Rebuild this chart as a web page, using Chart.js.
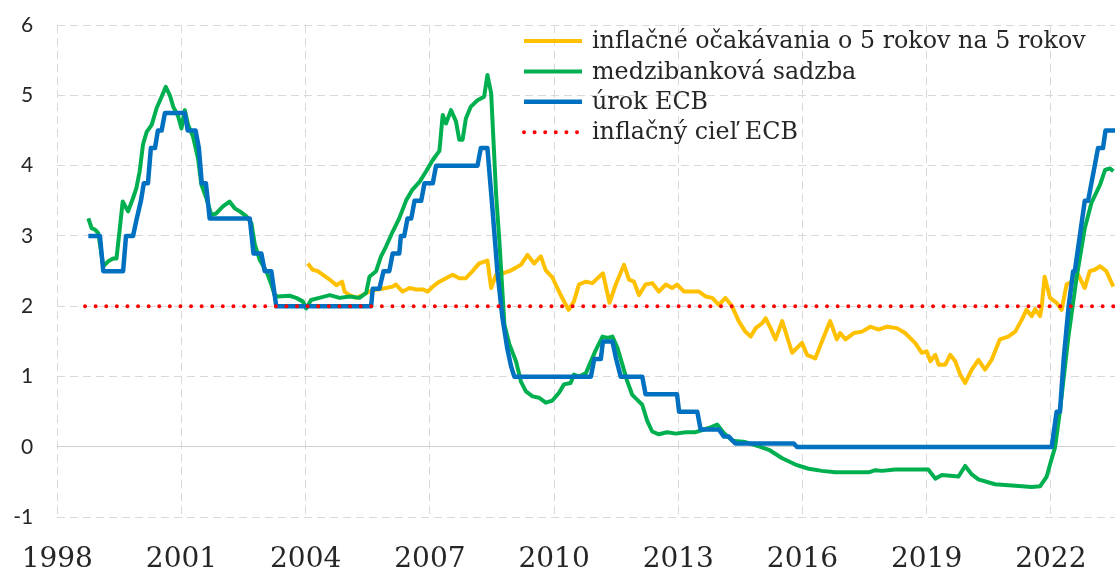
<!DOCTYPE html>
<html lang="sk">
<head>
<meta charset="utf-8">
<title>Úrokové sadzby a inflačné očakávania</title>
<script src="https://cdn.jsdelivr.net/npm/chart.js@4.4.1/dist/chart.umd.min.js"></script>
<style>
  html, body { margin: 0; padding: 0; background: #ffffff; }
  #wrap { width: 1115px; height: 571px; position: relative; }
</style>
</head>
<body>
<div id="wrap"><canvas id="graf"></canvas></div>
<script>
// Popisky radov (legenda)
const seriesLabels = [
  "inflačné očakávania o 5 rokov na 5 rokov",
  "medzibanková sadzba",
  "úrok ECB",
  "inflačný cieľ ECB",
];

// Os x – roky (popisky)
const xTickValues = [1998, 2001, 2004, 2007, 2010, 2013, 2016, 2019, 2022];
const xMin = 1998;
const xMax = 2023.55;

// Os y
const yMin = -1;
const yMax = 6;

// Inflačné očakávania 5y5y
const inflYears = [
  2004.05, 2004.17, 2004.29, 2004.41, 2004.58, 2004.74, 2004.88, 2004.94,
  2005.06, 2005.22, 2005.38, 2005.54, 2005.74, 2005.94,
  2006.10, 2006.18, 2006.34, 2006.51, 2006.67, 2006.83, 2006.95,
  2007.07, 2007.23, 2007.39, 2007.55, 2007.71, 2007.87,
  2008.03, 2008.19, 2008.39, 2008.48, 2008.60, 2008.76, 2008.92,
  2009.08, 2009.20, 2009.36, 2009.52, 2009.68, 2009.80, 2009.96,
  2010.16, 2010.35, 2010.48, 2010.60, 2010.77, 2010.93,
  2011.05, 2011.18, 2011.34, 2011.49, 2011.69, 2011.81, 2011.93,
  2012.05, 2012.21, 2012.37, 2012.53, 2012.70, 2012.85, 2012.97,
  2013.14, 2013.34, 2013.50, 2013.66, 2013.82, 2013.98,
  2014.14, 2014.30, 2014.46, 2014.62, 2014.75, 2014.87,
  2015.03, 2015.11, 2015.23, 2015.35, 2015.51, 2015.75, 2015.99,
  2016.11, 2016.31, 2016.47, 2016.67, 2016.83, 2016.91,
  2017.04, 2017.24, 2017.44, 2017.64, 2017.84,
  2018.04, 2018.28, 2018.48, 2018.72, 2018.88,
  2019.00, 2019.09, 2019.21, 2019.29, 2019.45, 2019.57, 2019.69, 2019.81, 2019.93,
  2020.09, 2020.25, 2020.41, 2020.57, 2020.77, 2020.97,
  2021.14, 2021.29, 2021.41, 2021.54, 2021.62, 2021.74, 2021.78, 2021.85, 2021.98,
  2022.14, 2022.26, 2022.38, 2022.50, 2022.66, 2022.82, 2022.94,
  2023.06, 2023.19, 2023.34, 2023.51,
];
const inflValues = [
  2.61, 2.52, 2.50, 2.45, 2.38, 2.30, 2.35, 2.21,
  2.16, 2.12, 2.16, 2.21, 2.24, 2.26,
  2.28, 2.31, 2.21, 2.26, 2.24, 2.24, 2.21,
  2.28, 2.35, 2.40, 2.45, 2.40, 2.40,
  2.50, 2.61, 2.65, 2.26, 2.45, 2.47, 2.50,
  2.55, 2.59, 2.73, 2.61, 2.71, 2.51, 2.41,
  2.16, 1.95, 2.07, 2.31, 2.35, 2.33,
  2.40, 2.47, 2.05, 2.31, 2.59, 2.38, 2.35,
  2.16, 2.31, 2.33, 2.21, 2.31, 2.26, 2.31,
  2.21, 2.21, 2.21, 2.14, 2.12, 2.02,
  2.12, 2.00, 1.79, 1.64, 1.57, 1.69,
  1.76, 1.83, 1.69, 1.53, 1.79, 1.34, 1.48,
  1.31, 1.26, 1.50, 1.79, 1.53, 1.62,
  1.53, 1.62, 1.64, 1.71, 1.67,
  1.71, 1.69, 1.62, 1.48, 1.34,
  1.36, 1.22, 1.31, 1.17, 1.17, 1.31, 1.22, 1.03, 0.91,
  1.10, 1.24, 1.10, 1.24, 1.53, 1.57,
  1.64, 1.80, 1.95, 1.86, 1.96, 1.86, 2.00, 2.42, 2.12,
  2.05, 1.95, 2.31, 2.35, 2.45, 2.26, 2.50,
  2.52, 2.57, 2.50, 2.28,
];

// Medzibanková sadzba
const rateYears = [
  1998.75, 1998.83, 1998.91, 1998.99,
  1999.11, 1999.23, 1999.35, 1999.43, 1999.51, 1999.58, 1999.71, 1999.83, 1999.91, 1999.99,
  2000.07, 2000.16, 2000.28, 2000.40, 2000.52, 2000.62, 2000.72, 2000.80, 2000.92,
  2001.00, 2001.08, 2001.16, 2001.28, 2001.40, 2001.48, 2001.60, 2001.72, 2001.84,
  2002.00, 2002.16, 2002.29, 2002.41, 2002.57, 2002.69, 2002.77, 2002.89,
  2003.05, 2003.17, 2003.25, 2003.33, 2003.61, 2003.77, 2003.93,
  2004.01, 2004.13, 2004.33, 2004.58, 2004.82,
  2005.06, 2005.30, 2005.46, 2005.54, 2005.70, 2005.82, 2005.94,
  2006.10, 2006.26, 2006.43, 2006.58, 2006.75, 2006.91,
  2007.07, 2007.23, 2007.31, 2007.39, 2007.51, 2007.63, 2007.71, 2007.79, 2007.87, 2007.99,
  2008.15, 2008.31, 2008.39, 2008.48, 2008.60, 2008.68, 2008.80, 2008.92,
  2009.08, 2009.20, 2009.32, 2009.48, 2009.64, 2009.80, 2009.96,
  2010.12, 2010.24, 2010.40, 2010.48, 2010.60, 2010.77, 2010.89,
  2011.01, 2011.17, 2011.29, 2011.41, 2011.53, 2011.65, 2011.77, 2011.89,
  2012.01, 2012.13, 2012.25, 2012.37, 2012.53, 2012.73, 2012.94,
  2013.18, 2013.42, 2013.74, 2013.94,
  2014.10, 2014.30, 2014.62, 2014.95,
  2015.19, 2015.51, 2015.83,
  2016.15, 2016.47, 2016.79,
  2017.60, 2017.76, 2017.92,
  2018.24,
  2019.04, 2019.21, 2019.37, 2019.77, 2019.93,
  2020.09, 2020.25, 2020.65,
  2021.14, 2021.54, 2021.74, 2021.90, 2021.98,
  2022.10, 2022.22, 2022.42, 2022.62, 2022.82, 2022.98,
  2023.19, 2023.31, 2023.43, 2023.51,
];
const rateValues = [
  3.25, 3.11, 3.09, 3.04,
  2.57, 2.64, 2.68, 2.68, 3.11, 3.49, 3.35, 3.54, 3.68, 3.92,
  4.30, 4.48, 4.58, 4.82, 4.98, 5.12, 5.00, 4.84, 4.70,
  4.53, 4.79, 4.58, 4.41, 4.10, 3.73, 3.54, 3.30, 3.32,
  3.42, 3.49, 3.39, 3.35, 3.28, 3.18, 2.88, 2.66,
  2.50, 2.31, 2.16, 2.14, 2.15, 2.12, 2.07,
  1.97, 2.09, 2.12, 2.16, 2.12,
  2.14, 2.12, 2.19, 2.42, 2.50, 2.71, 2.85,
  3.06, 3.25, 3.51, 3.66, 3.77, 3.92,
  4.08, 4.21, 4.72, 4.60, 4.79, 4.63, 4.37, 4.37, 4.67, 4.84,
  4.93, 4.98, 5.29, 5.03, 3.59, 2.92, 1.74, 1.46,
  1.22, 0.93, 0.79, 0.72, 0.70, 0.63, 0.66,
  0.77, 0.89, 0.91, 1.03, 1.00, 1.05, 1.22,
  1.38, 1.57, 1.55, 1.57, 1.41, 1.17, 0.93, 0.74,
  0.67, 0.60, 0.37, 0.22, 0.18, 0.21, 0.19,
  0.21, 0.21, 0.27, 0.32,
  0.20, 0.09, 0.07, 0.01,
  -0.04, -0.16, -0.25,
  -0.31, -0.34, -0.36,
  -0.36, -0.33, -0.34,
  -0.32,
  -0.32, -0.45, -0.40, -0.42, -0.27,
  -0.39, -0.46, -0.53,
  -0.55, -0.57, -0.56, -0.42, -0.25,
  -0.01, 0.51, 1.55, 2.40, 3.11, 3.47,
  3.73, 3.94, 3.96, 3.92,
];

// Úrok ECB (hlavné refinančné operácie)
const ecbYears = [
  1998.75, 1999.03, 1999.11, 1999.59, 1999.66, 1999.83, 1999.92,
  2000.02, 2000.09, 2000.19, 2000.26, 2000.36, 2000.43, 2000.52, 2000.60,
  2001.08, 2001.15, 2001.34, 2001.42, 2001.49, 2001.59, 2001.68,
  2002.65, 2002.74, 2002.93,
  2003.01, 2003.17, 2003.29,
  2005.58, 2005.62, 2005.78, 2005.88,
  2006.02, 2006.10, 2006.26, 2006.30, 2006.38, 2006.46, 2006.55, 2006.63, 2006.79, 2006.87,
  2007.07, 2007.15,
  2008.15, 2008.23, 2008.39, 2008.51, 2008.63, 2008.75, 2008.87, 2008.96,
  2009.04,
  2010.89, 2010.97,
  2011.13, 2011.18, 2011.41, 2011.50, 2011.61,
  2012.13, 2012.21, 2012.97,
  2013.02, 2013.46, 2013.54, 2013.98,
  2014.10, 2014.22, 2014.38,
  2015.79, 2015.87,
  2022.02, 2022.14, 2022.22, 2022.31, 2022.43, 2022.54, 2022.58, 2022.82, 2022.90,
  2023.14, 2023.26, 2023.32, 2023.60,
];
const ecbValues = [
  3.00, 3.00, 2.50, 2.50, 3.00, 3.00, 3.25,
  3.50, 3.75, 3.75, 4.25, 4.25, 4.50, 4.50, 4.75,
  4.75, 4.50, 4.50, 4.25, 3.75, 3.75, 3.25,
  3.25, 2.75, 2.75,
  2.50, 2.50, 2.00,
  2.00, 2.25, 2.25, 2.50,
  2.50, 2.75, 2.75, 3.00, 3.00, 3.25, 3.25, 3.50, 3.50, 3.75,
  3.75, 4.00,
  4.00, 4.25, 4.25, 3.40, 2.50, 1.85, 1.40, 1.15,
  1.00,
  1.00, 1.25,
  1.25, 1.50, 1.50, 1.25, 1.00,
  1.00, 0.75, 0.75,
  0.50, 0.50, 0.25, 0.25,
  0.15, 0.15, 0.05,
  0.05, 0.00,
  0.00, 0.50, 0.50, 1.25, 2.00, 2.50, 2.50, 3.50, 3.50,
  4.25, 4.25, 4.50, 4.50,
];

// Inflačný cieľ ECB
const targetYears = [1998.67, 2023.6];
const targetValues = [2, 2];

// Farby
const colors = ["#FFC000", "#00B050", "#0070C0", "#FF0000"];

function toPoints(xs, ys) {
  return xs.map((x, i) => ({ x: x, y: ys[i] }));
}

// Vlastná legenda vnútri grafu
const legendInside = {
  id: "legendInside",
  afterDatasetsDraw(chart, args, opts) {
    const ctx = chart.ctx;
    ctx.save();
    ctx.font = opts.font;
    ctx.textBaseline = "middle";
    ctx.textAlign = "left";
    chart.data.datasets.forEach((ds, i) => {
      const y = opts.y + i * opts.rowHeight;
      ctx.beginPath();
      ctx.strokeStyle = ds.borderColor;
      ctx.lineWidth = ds.borderWidth;
      ctx.lineCap = ds.borderCapStyle || "butt";
      ctx.setLineDash(ds.borderDash || []);
      ctx.moveTo(opts.x, y);
      ctx.lineTo(opts.x + opts.lineLength, y);
      ctx.stroke();
      ctx.setLineDash([]);
      ctx.fillStyle = opts.color;
      ctx.fillText(ds.label, opts.x + opts.lineLength + opts.gap, y + 1);
    });
    ctx.restore();
  },
};

const gridColor = "#d9d9d9";
const textColor = "#262626";

const ctx = document.getElementById("graf").getContext("2d");
new Chart(ctx, {
  type: "line",
  data: {
    datasets: [
      {
        label: seriesLabels[0],
        data: toPoints(inflYears, inflValues),
        borderColor: colors[0],
        borderWidth: 4,
        borderJoinStyle: "round",
        order: 4,
      },
      {
        label: seriesLabels[1],
        data: toPoints(rateYears, rateValues),
        borderColor: colors[1],
        borderWidth: 4,
        borderJoinStyle: "round",
        order: 3,
      },
      {
        label: seriesLabels[2],
        data: toPoints(ecbYears, ecbValues),
        borderColor: colors[2],
        borderWidth: 4.5,
        borderJoinStyle: "round",
        order: 2,
      },
      {
        label: seriesLabels[3],
        data: toPoints(targetYears, targetValues),
        borderColor: colors[3],
        borderWidth: 4,
        borderDash: [0, 10.6],
        borderCapStyle: "round",
        order: 1,
      },
    ],
  },
  options: {
    responsive: true,
    maintainAspectRatio: false,
    animation: false,
    layout: { padding: { top: 25, right: 0, bottom: 0, left: 0 } },
    elements: {
      point: { radius: 0, hoverRadius: 0 },
      line: { tension: 0, fill: false },
    },
    plugins: {
      legend: { display: false },
      tooltip: { enabled: false },
      legendInside: {
        x: 524,
        y: 41,
        rowHeight: 30.4,
        lineLength: 58,
        gap: 10,
        font: '23.8px "DejaVu Serif"',
        color: textColor,
      },
    },
    scales: {
      x: {
        type: "linear",
        min: xMin,
        max: xMax,
        afterBuildTicks: (axis) => {
          axis.ticks = xTickValues.map((v) => ({ value: v }));
        },
        afterFit: (axis) => {
          axis.height = 53.7;
        },
        // neviditeľné značky nahradia odsadenie popisov
        grid: {
          color: gridColor,
          lineWidth: 1,
          drawTicks: true,
          tickLength: 26,
          tickColor: "rgba(0,0,0,0)",
        },
        border: { display: false, dash: [8, 5] },
        ticks: {
          autoSkip: false,
          maxRotation: 0,
          padding: 0,
          color: textColor,
          font: { family: "DejaVu Serif", size: 28 },
          callback: (v) => String(v),
        },
      },
      y: {
        min: yMin,
        max: yMax,
        afterFit: (axis) => {
          axis.width = 57.3;
        },
        grid: {
          color: (c) => (c.tick && c.tick.value === 0 ? "#cfcfcf" : gridColor),
          lineWidth: 1,
          drawTicks: true,
          tickLength: 24,
          tickColor: "rgba(0,0,0,0)",
        },
        border: {
          display: false,
          dash: (c) => (c.tick && c.tick.value === 0 ? [] : [8, 5]),
        },
        ticks: {
          stepSize: 1,
          padding: 0,
          color: textColor,
          font: { family: "Lato", size: 21 },
          callback: (v) => String(v),
        },
      },
    },
  },
  plugins: [legendInside],
});
</script>
</body>
</html>
